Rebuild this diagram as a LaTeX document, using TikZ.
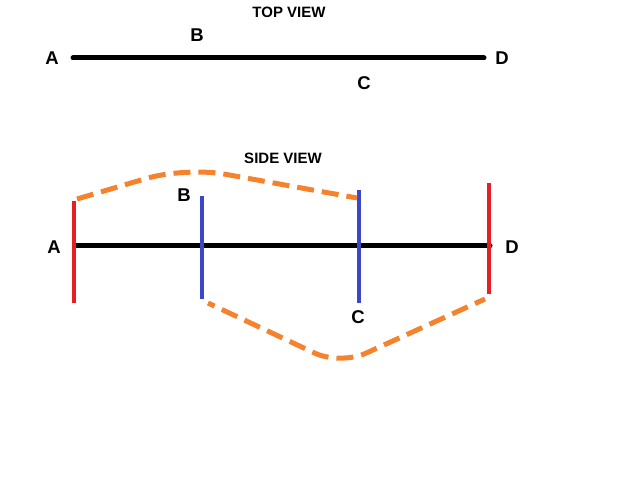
\documentclass[tikz,border=0pt]{standalone}
\usepackage{fontspec}
\setmainfont{Liberation Sans}
\usepackage{xcolor}
\usetikzlibrary{calc, positioning}

\definecolor{postred}{RGB}{230,30,40}
\definecolor{postblue}{RGB}{60,70,200}
\definecolor{ropeorange}{RGB}{245,130,45}

\tikzset{
    lbl/.style={font=\bfseries\fontsize{18.5}{20}\selectfont, inner sep=0pt},
    ttl/.style={font=\bfseries\fontsize{15}{17}\selectfont, inner sep=0pt},
    axis/.style={line width=5pt, line cap=round},
    redpost/.style={line width=4pt, postred},
    bluepost/.style={line width=4pt, postblue},
    rope/.style={line width=5pt, ropeorange, dash pattern=on 17pt off 8pt}
}

\begin{document}
\begin{tikzpicture}[x=1pt, y=1pt]
    \useasboundingbox (0,0) rectangle (640,480);

    % =================================================================
    % TOP VIEW
    % =================================================================
    \node[ttl] (topttl) at (289,468) {TOP VIEW};

    % Cac diem cua duong thang
    \coordinate (tA) at (73,422);
    \coordinate (tD) at (484,422);
    \draw[axis] (tA) -- (tD);

    % Nhan
    \node[lbl] (topA) at (52,422) {A};
    \node[lbl] (topB) at (197,445) {B};
    \node[lbl] (topC) at (364,397) {C};
    \node[lbl] (topD) at (502,422) {D};

    % =================================================================
    % SIDE VIEW
    % =================================================================
    \node[ttl] (sidettl) at (283,322) {SIDE VIEW};

    % Duong thang chinh
    \coordinate (sA) at (75,234);
    \coordinate (sD) at (490,234);
    \draw[axis] (sA) -- (sD);

    % Cac cot: dinh tren va dinh duoi
    \coordinate (A1) at (74,279);  \coordinate (A2) at (74,177);
    \coordinate (B1) at (202,284); \coordinate (B2) at (202,181);
    \coordinate (C1) at (359,290); \coordinate (C2) at (359,177);
    \coordinate (D1) at (489,297); \coordinate (D2) at (489,186);

    % Ve cac cot (tren duong thang den)
    \draw[redpost] (A1) -- (A2);
    \draw[redpost] (D1) -- (D2);
    \draw[bluepost] (B1) -- (B2);
    \draw[bluepost] (C1) -- (C2);

    % Day noi net dut
    \draw[rope, rounded corners=40pt] (77,281) -- (185,313) -- (357,282);
    \draw[rope, dash phase=6pt, rounded corners=28pt] (485,181) -- (340,115) -- (208,177);

    % Nhan
    \node[lbl] (sideA) at (54,233) {A};
    \node[lbl] (sideB) at (184,285) {B};
    \node[lbl] (sideC) at (358,163) {C};
    \node[lbl] (sideD) at (512,233) {D};

\end{tikzpicture}
\end{document}
